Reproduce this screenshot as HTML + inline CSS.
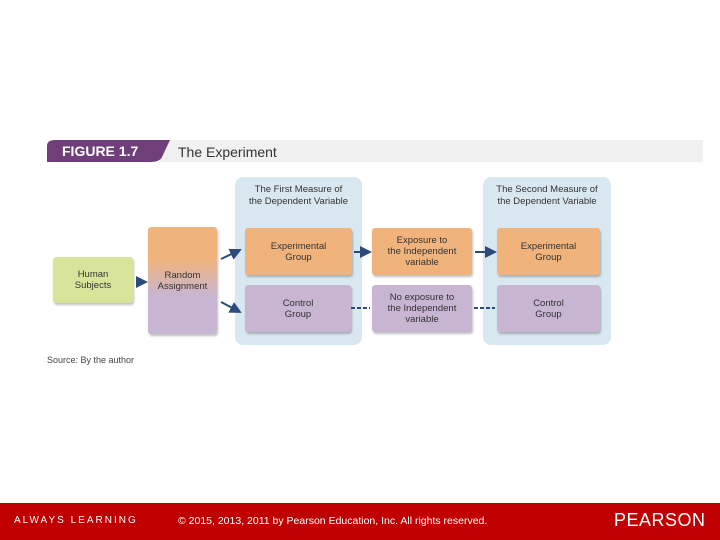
<!DOCTYPE html>
<html><head><style>
body{margin:0;width:720px;height:540px;position:relative;background:#fff;font-family:"Liberation Sans",sans-serif;overflow:hidden}
.a{position:absolute}
.bx{position:absolute;display:flex;align-items:center;justify-content:center;text-align:center;font-size:9.5px;line-height:11px;color:#333;border-radius:3px;box-shadow:1px 2px 2px rgba(0,0,0,.25);white-space:nowrap}
.o{background:#f0b37c}.p{background:#c7b5d2}
.pan{position:absolute;background:#d9e8f0;border-radius:8px}
.ph{position:absolute;font-size:9.5px;line-height:12px;color:#333;text-align:center}
</style></head><body>
<div class="a" style="left:160px;top:140px;width:543px;height:22px;background:#f0f0f0"></div>
<svg class="a" style="left:0;top:0" width="720" height="540">
<path d="M47 162 L47 146 Q47 140 55 140 L170 140 L162 157 Q160 162 150 162 Z" fill="#6f3f7a"/>
<defs><marker id="m" markerWidth="6" markerHeight="6" refX="5" refY="3" orient="auto"><path d="M0 0 L6 3 L0 6Z" fill="#2c4a7c"/></marker></defs>
</svg>
<div class="a" style="left:62px;top:143px;color:#fff;font-weight:bold;font-size:14px">FIGURE 1.7</div>
<div class="a" style="left:178px;top:144px;color:#333;font-size:14px">The Experiment</div>
<div class="pan" style="left:235px;top:177px;width:127px;height:168px"></div>
<div class="pan" style="left:483px;top:177px;width:128px;height:168px"></div>
<div class="ph" style="left:235px;top:184px;width:127px">The First Measure of<br>the Dependent Variable</div>
<div class="ph" style="left:483px;top:184px;width:128px">The Second Measure of<br>the Dependent Variable</div>
<div class="bx" style="left:53px;top:257px;width:80px;height:46px;background:#d9e49b">Human<br>Subjects</div>
<div class="bx" style="left:148px;top:227px;width:69px;height:107px;background:linear-gradient(#f0b37c 0%,#f0b37c 30%,#c7b5d2 65%,#c7b5d2 100%)">Random<br>Assignment</div>
<div class="bx o" style="left:245px;top:228px;width:107px;height:47px">Experimental<br>Group</div>
<div class="bx p" style="left:245px;top:285px;width:106px;height:47px">Control<br>Group</div>
<div class="bx o" style="left:372px;top:228px;width:100px;height:47px">Exposure to<br>the Independent<br>variable</div>
<div class="bx p" style="left:372px;top:285px;width:100px;height:47px">No exposure to<br>the Independent<br>variable</div>
<div class="bx o" style="left:497px;top:228px;width:103px;height:47px">Experimental<br>Group</div>
<div class="bx p" style="left:497px;top:285px;width:103px;height:47px">Control<br>Group</div>
<svg class="a" style="left:0;top:0" width="720" height="540">
<g stroke="#2c4a7c" stroke-width="2" fill="none">
<line x1="136" y1="282" x2="146" y2="282" marker-end="url(#m)"/>
<line x1="221" y1="259" x2="240" y2="250" marker-end="url(#m)"/>
<line x1="221" y1="302" x2="240" y2="312" marker-end="url(#m)"/>
<line x1="354" y1="252" x2="370" y2="252" marker-end="url(#m)"/>
<line x1="475" y1="252" x2="495" y2="252" marker-end="url(#m)"/>
<line x1="351" y1="308" x2="370" y2="308" stroke-dasharray="4 2"/>
<line x1="474" y1="308" x2="495" y2="308" stroke-dasharray="4 2"/>
</g></svg>
<div class="a" style="left:47px;top:355px;font-size:9px;color:#444">Source: By the author</div>
<div class="a" style="left:0;top:503px;width:720px;height:37px;background:#c00000"></div>
<div class="a" style="left:14px;top:515px;color:#fff;font-size:10px;letter-spacing:2px">ALWAYS LEARNING</div>
<div class="a" style="left:178px;top:515px;color:#fff;font-size:10.5px">© 2015, 2013, 2011 by Pearson Education, Inc. All rights reserved.</div>
<div class="a" style="left:614px;top:510px;color:#fff;font-size:18px;letter-spacing:0.5px">PEARSON</div>
</body></html>
